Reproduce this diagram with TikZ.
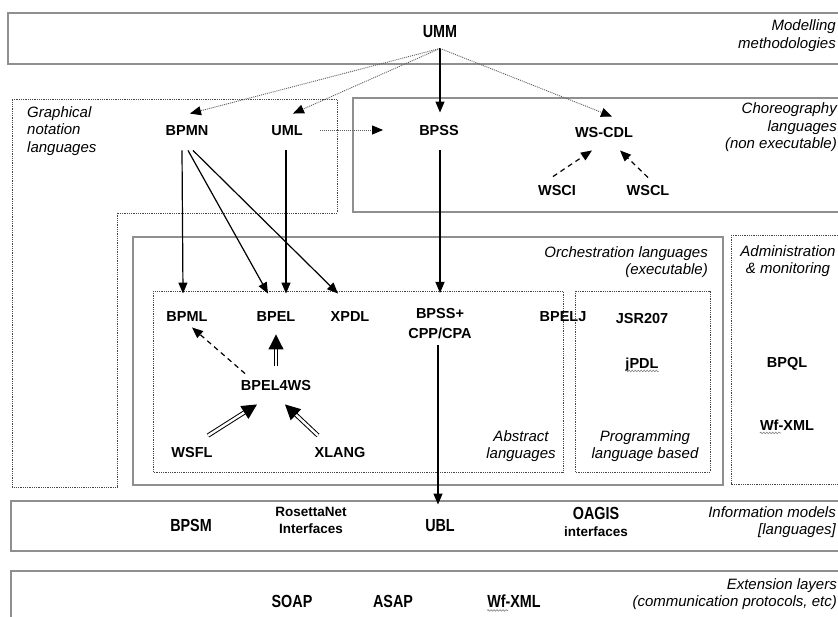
\documentclass[tikz,border=0pt]{standalone}
\usepackage{fontspec}
\setmainfont{Liberation Sans}
\newfontfamily\narrowfont[FakeStretch=0.82]{Liberation Sans}
\usetikzlibrary{arrows.meta,decorations.pathmorphing}

\definecolor{boxgray}{HTML}{8F8F8F}
\definecolor{dotgray}{HTML}{484848}
\definecolor{linkgray}{HTML}{606060}

\tikzset{
  lang/.style={font=\fontsize{14.5}{20}\selectfont\bfseries, inner sep=0pt,
    text height=10.5pt, text depth=0pt},
  langtwo/.style={font=\fontsize{14.5}{20}\selectfont\bfseries, inner sep=0pt, align=center},
  wide/.style={font=\narrowfont\fontsize{17.5}{20}\selectfont\bfseries, inner sep=0pt,
    text height=12.5pt, text depth=0pt},
  smallbf/.style={font=\fontsize{13.5}{17}\selectfont\bfseries, inner sep=0pt, align=center},
  caption/.style={font=\fontsize{15}{17.5}\selectfont\itshape, inner sep=0pt},
  layer/.style={draw=boxgray, line width=1.2pt},
  group/.style={draw=dotgray, line width=0.9pt, dash pattern=on 0.9pt off 0.9pt},
  solidlink/.style={-{Triangle[length=11pt,width=9pt]}, line width=1.2pt},
  dotlink/.style={-{Triangle[length=11pt,width=9pt,color=black]}, draw=linkgray,
    line width=0.9pt, dash pattern=on 1pt off 1pt},
  dashlink/.style={-{Triangle[length=11pt,width=9pt]}, line width=1.2pt,
    dash pattern=on 5pt off 4pt},
  dbllink/.style={-{Triangle[length=15pt,width=15pt]}, double, double distance=2.4pt,
    line width=1pt},
  squiggle/.style={draw=gray, line width=0.6pt, decorate,
    decoration={snake, amplitude=0.8pt, segment length=3pt}},
}

\begin{document}
\begin{tikzpicture}[x=1pt,y=-1pt]
\useasboundingbox (0,0) rectangle (838,617);
\fill[white] (0,0) rectangle (838,617);
\clip (0,0) rectangle (838,617);

% layers and groups
\draw[layer] (8,13) rectangle (850,64);
\draw[group] (12,99) -- (337,99) -- (337,213) -- (117,213) -- (117,487) -- (12,487) -- cycle;
\draw[layer] (353,98) rectangle (850,212);
\draw[layer] (133,237) rectangle (723,485);
\draw[group] (153,291) rectangle (563,472);
\draw[group] (575,291) rectangle (710,472);
\draw[group] (731,235) -- (850,235) (850,484) -- (731,484) -- (731,235);
\draw[layer] (11,501) rectangle (850,551);
\draw[layer] (11,571) rectangle (850,640);

% group captions
\node[caption, anchor=east, align=right] (capmod) at (836,35.5) {Modelling\\methodologies};
\node[caption, anchor=west, align=left] (capgra) at (27,131) {Graphical\\notation\\languages};
\node[caption, anchor=east, align=right] (capcho) at (837,127.5) {Choreography\\languages\\(non executable)};
\node[caption, anchor=east, align=right] (caporc) at (708,262) {Orchestration languages\\(executable)};
\node[caption, align=center] (capabs) at (521,446) {Abstract\\languages};
\node[caption, align=center] (capprg) at (645,446) {Programming\\language based};
\node[caption, align=center] (capadm) at (788,261) {Administration\\\& monitoring};
\node[caption, anchor=east, align=right] (capinf) at (836,522) {Information models\\{[languages]}};
\node[caption, anchor=east, align=right] (capext) at (837,594) {Extension layers\\(communication protocols, etc)};

% languages
\node[wide] (umm) at (440,31) {UMM};
\node[lang] (bpmn) at (187,130) {BPMN};
\node[lang] (uml) at (287,130) {UML};
\node[lang] (bpss) at (439,130) {BPSS};
\node[lang] (wscdl) at (604,132) {WS-CDL};
\node[lang] (wsci) at (557,190) {WSCI};
\node[lang] (wscl) at (648,190) {WSCL};
\node[lang] (bpml) at (187,316) {BPML};
\node[lang] (bpel) at (276,316) {BPEL};
\node[lang] (xpdl) at (350,316) {XPDL};
\node[langtwo, anchor=north] (cpp) at (440,308) {BPSS+\\CPP/CPA};
\node[lang] (bpelj) at (563,316) {BPELJ};
\node[lang] (jsr) at (642,318) {JSR207};
\node[lang] (jpdl) at (642,363) {jPDL};
\node[lang] (bpel4ws) at (276,385) {BPEL4WS};
\node[lang] (wsfl) at (192,452) {WSFL};
\node[lang] (xlang) at (340,452) {XLANG};
\node[lang] (bpql) at (787,362) {BPQL};
\node[lang] (wfadm) at (787,425) {Wf-XML};

\node[wide] (bpsm) at (191,525) {BPSM};
\node[smallbf] (rosetta) at (311,520) {RosettaNet\\Interfaces};
\node[wide] (ubl) at (440,525) {UBL};
\node[smallbf] (oagis) at (596,522) {{\narrowfont\fontsize{17.5}{20}\selectfont OAGIS}\\interfaces};
\node[wide] (soap) at (292,601) {SOAP};
\node[wide] (asap) at (393,601) {ASAP};
\node[wide] (wfext) at (514,601) {Wf-XML};

% spelling squiggles under the unknown words
\path[squiggle] ([yshift=-2.5pt]jpdl.south west) -- ([yshift=-2.5pt]jpdl.south east);
\path[squiggle] ([yshift=-2.5pt]wfadm.south west) -- ++(21,0);
\path[squiggle] ([yshift=-3pt]wfext.south west) -- ++(21,0);

% connectors
\draw[dotlink] ([shift={(0,11)}]umm.south) -- ([shift={(3,-11)}]bpmn.north);
\draw[dotlink] ([shift={(0,11)}]umm.south) -- ([shift={(6,-11)}]uml.north);
\draw[solidlink] ([shift={(0,11)}]umm.south) -- ([shift={(1,-12)}]bpss.north);
\draw[dotlink] ([shift={(0,11)}]umm.south) -- ([shift={(8,-10)}]wscdl.north);
\draw[dotlink] ([shift={(17,0)}]uml.east) -- ([shift={(-36,0)}]bpss.west);
\draw[dashlink] ([shift={(-4,-8)}]wsci.north) -- ([shift={(-12,13)}]wscdl.south);
\draw[dashlink] ([shift={(0,-7)}]wscl.north) -- ([shift={(16,13)}]wscdl.south);
\draw[solidlink] ([shift={(1,15)}]bpss.south) -- ([shift={(0,-15)}]cpp.north);
\draw[solidlink] ([shift={(-2,6)}]cpp.south) -- ([shift={(-2,-14)}]ubl.north);

\draw[solidlink] ([shift={(-5,15)}]bpmn.south) -- ([shift={(-4,-17)}]bpml.north);
\draw[solidlink] ([shift={(1,15)}]bpmn.south) -- ([shift={(-8,-17)}]bpel.north);
\draw[solidlink] ([shift={(6,15)}]bpmn.south) -- ([shift={(-12,-17)}]xpdl.north);
\draw[solidlink] ([shift={(-1,15)}]uml.south) -- ([shift={(10,-17)}]bpel.north);

\draw[dashlink] ([shift={(-31,-6)}]bpel4ws.north) -- ([shift={(5,6)}]bpml.south);
\draw[dbllink] ([shift={(0,-14)}]bpel4ws.north) -- ([shift={(0,13)}]bpel.south);
\draw[dbllink] ([shift={(16,-11)}]wsfl.north) -- ([shift={(-19,14)}]bpel4ws.south);
\draw[dbllink] ([shift={(-22,-11)}]xlang.north) -- ([shift={(9,14)}]bpel4ws.south);
\end{tikzpicture}
\end{document}
